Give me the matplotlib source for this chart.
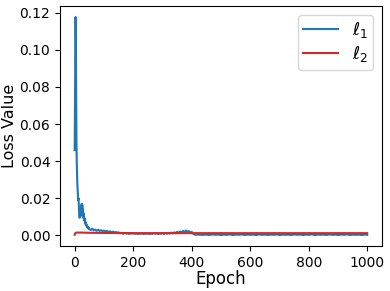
import matplotlib
matplotlib.use("Agg")
import matplotlib.pyplot as plt

# loss l1 (blue): every epoch early on, coarser later
epochs_1 = list(range(0, 50)) + list(range(50, 450, 5)) + list(range(450, 1000, 10)) + [999]
loss_1 = [
    # 0-49
    0.046, 0.072, 0.094, 0.1177, 0.104, 0.075, 0.052, 0.040, 0.033, 0.028,
    0.025, 0.022, 0.019, 0.020, 0.016, 0.013, 0.011, 0.0095, 0.012, 0.010,
    0.014, 0.011, 0.016, 0.012, 0.017, 0.013, 0.0165, 0.012, 0.014, 0.010,
    0.012, 0.009, 0.0105, 0.008, 0.009, 0.007, 0.0075, 0.006, 0.0068, 0.0055,
    0.006, 0.0048, 0.0052, 0.0045, 0.0048, 0.004, 0.0043, 0.0037, 0.004, 0.0035,
    # 50-445 (step 5)
    0.0034, 0.0029, 0.0036, 0.0027, 0.0031, 0.0025, 0.0030, 0.0024, 0.0028, 0.0023,
    0.0026, 0.0021, 0.0024, 0.0019, 0.0022, 0.0017, 0.0020, 0.0016, 0.0018, 0.0014,
    0.0016, 0.0011, 0.0014, 0.0009, 0.0013, 0.0010, 0.0012, 0.0008, 0.0011, 0.0009,
    0.0012, 0.0008, 0.0011, 0.0007, 0.0010, 0.0008, 0.0012, 0.0007, 0.0010, 0.0008,
    0.0011, 0.0007, 0.0010, 0.0008, 0.0012, 0.0009, 0.0011, 0.0007, 0.0010, 0.0009,
    0.0012, 0.0008, 0.0013, 0.0009, 0.0012, 0.0010, 0.0015, 0.0011, 0.0016, 0.0012,
    0.0019, 0.0014, 0.0021, 0.0016, 0.0024, 0.0018, 0.0026, 0.0019, 0.0023, 0.0016,
    0.0018, 0.0009, 0.0004, 0.0003, 0.0005, 0.0003, 0.0004, 0.0002, 0.0004, 0.0003,
    # 450-990 (step 10)
    0.0004, 0.0002, 0.0005, 0.0003, 0.0004, 0.0002, 0.0004, 0.0003, 0.0005, 0.0002,
    0.0004, 0.0003, 0.0005, 0.0002, 0.0004, 0.0003, 0.0004, 0.0002, 0.0005, 0.0003,
    0.0004, 0.0002, 0.0004, 0.0003, 0.0005, 0.0002, 0.0004, 0.0003, 0.0004, 0.0002,
    0.0005, 0.0003, 0.0004, 0.0002, 0.0004, 0.0003, 0.0005, 0.0002, 0.0004, 0.0003,
    0.0004, 0.0002, 0.0005, 0.0003, 0.0004, 0.0002, 0.0004, 0.0003, 0.0005, 0.0002,
    0.0004, 0.0003, 0.0004, 0.0002, 0.0004,
    # 999
    0.0003,
]

# loss l2 (red): nearly flat
epochs_2 = [0, 1, 2, 3, 4, 6, 8, 10, 20, 50, 100, 150, 200, 250, 300, 350,
            400, 450, 500, 550, 600, 650, 700, 750, 800, 850, 900, 950, 999]
loss_2 = [0.0003, 0.0008, 0.0011, 0.0013, 0.0014, 0.0015, 0.0015, 0.0015, 0.0015, 0.0014,
          0.0013, 0.0013, 0.0012, 0.0012, 0.0012, 0.0012, 0.0012, 0.0012, 0.0012, 0.0012,
          0.0012, 0.0012, 0.0012, 0.0012, 0.0012, 0.0012, 0.0012, 0.0012, 0.0012]

fig, ax = plt.subplots(figsize=(3.9, 2.91), dpi=100)
fig.subplots_adjust(left=0.154, right=0.979, top=0.979, bottom=0.155)

ax.plot(epochs_1, loss_1, color='tab:blue', lw=1.5, label=r'$\ell_1$')
ax.plot(epochs_2, loss_2, color='tab:red', lw=1.5, label=r'$\ell_2$')

ax.set_xlabel('Epoch', fontsize=12, labelpad=0)
ax.set_ylabel('Loss Value', fontsize=11.5, labelpad=2)
ax.tick_params(labelsize=10)
ax.set_xticks([0, 200, 400, 600, 800, 1000])
ax.legend(loc='upper right', fontsize=12.5, labelspacing=0.25, borderpad=0.3,
          handlelength=2.0)

plt.savefig('out.png', dpi=100)
